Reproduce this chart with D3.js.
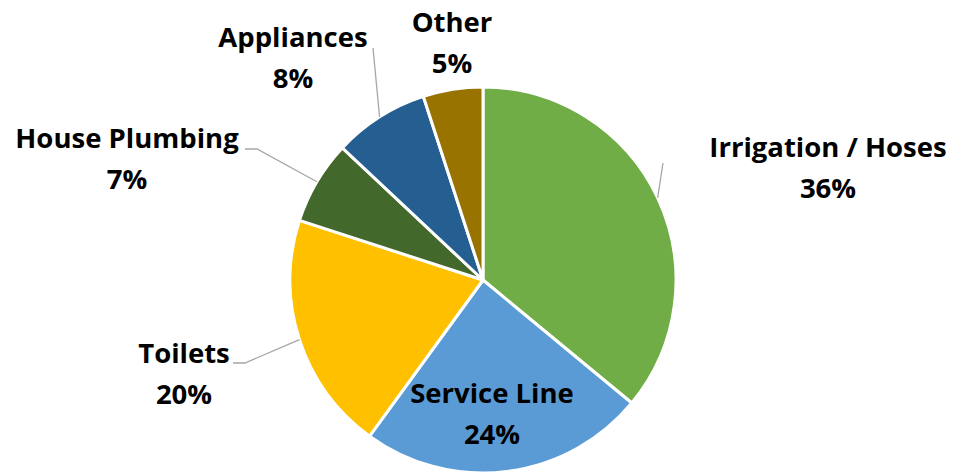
<!DOCTYPE html>
<html>
<head>
<meta charset="utf-8">
<script src="https://cdn.jsdelivr.net/npm/d3@7"></script>
<style>
  html, body { margin: 0; padding: 0; background: #fff; }
  svg text { font-family: "Open Sans", "Noto Sans", sans-serif; font-weight: 700; fill: #000; }
</style>
</head>
<body>
<svg id="chart" width="954" height="473"></svg>
<script>
// ---- data ----
const categories = ["Irrigation / Hoses", "Service Line", "Toilets", "House Plumbing", "Appliances", "Other"];
const values = [36, 24, 20, 7, 8, 5];
const colors = ["#70AD47", "#5B9BD5", "#FFC000", "#43682B", "#255E91", "#997300"];

// ---- layout (label placement, Excel-style) ----
const labelLayout = [
  { x: 828, y: 157, leader: [[663, 163]] },
  { x: 492, y: 403, leader: null },
  { x: 184, y: 363, leader: [[233, 363], [245, 363]] },
  { x: 127, y: 148, leader: [[245, 149], [257, 149]] },
  { x: 293, y: 47,  leader: [[373, 48]] },
  { x: 452, y: 32,  leader: null }
];

const W = 954, H = 473;
const cx = 483, cy = 280, R = 193;
const fontSize = 27.5, lineGap = 41;

const svg = d3.select("#chart");
const data = categories.map((c, i) => ({ name: c, value: values[i], color: colors[i], layout: labelLayout[i] }));

const pie = d3.pie().value(d => d.value).sort(null);
const arcs = pie(data);
const arc = d3.arc().innerRadius(0).outerRadius(R);

const g = svg.append("g").attr("transform", `translate(${cx},${cy})`);
g.selectAll("path.slice")
  .data(arcs)
  .join("path")
  .attr("class", "slice")
  .attr("d", arc)
  .attr("fill", d => d.data.color)
  .attr("stroke", "#fff")
  .attr("stroke-width", 3)
  .attr("stroke-linejoin", "round");

// leader lines
const line = d3.line();
arcs.forEach(a => {
  const L = a.data.layout;
  if (!L.leader) return;
  const mid = (a.startAngle + a.endAngle) / 2;
  const edge = [cx + R * Math.sin(mid), cy - R * Math.cos(mid)];
  const pts = L.leader.concat([edge]);
  svg.append("path")
    .attr("d", line(pts))
    .attr("fill", "none")
    .attr("stroke", "#A6A6A6")
    .attr("stroke-width", 1.3);
});

// labels
const fmt = d3.format(".0%");
const total = d3.sum(values);
arcs.forEach(a => {
  const L = a.data.layout;
  const t = svg.append("text")
    .attr("text-anchor", "middle")
    .attr("font-size", fontSize);
  t.append("tspan").attr("x", L.x).attr("y", L.y).text(a.data.name);
  t.append("tspan").attr("x", L.x).attr("y", L.y + lineGap).text(fmt(a.data.value / total));
});
</script>
</body>
</html>
